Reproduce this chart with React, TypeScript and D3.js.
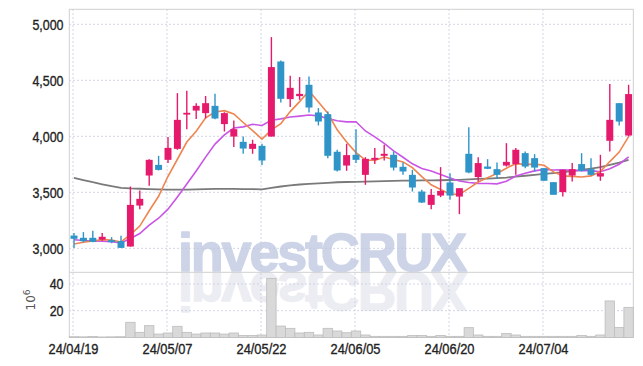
import React from 'react';
import * as d3 from 'd3';

const W = 643;
const H = 366;

const opens = [3114, 3094, 3094, 3078, 3073, 3064, 3016, 3382, 3650, 3745, 3790, 3888, 4194, 4230, 4207, 4272, 4109, 3998, 3951, 3888, 3915, 3998, 4668, 4332, 4359, 4460, 4213, 4198, 3862, 3739, 3835, 3656, 3790, 3826, 3835, 3728, 3656, 3507, 3388, 3471, 3588, 3462, 3844, 3636, 3730, 3707, 3739, 3752, 3850, 3805, 3716, 3591, 3502, 3650, 3752, 3707, 3641, 3960, 4296, 4007];
const highs = [3136, 3145, 3156, 3136, 3100, 3112, 3552, 3516, 3796, 3826, 3993, 4386, 4406, 4296, 4360, 4380, 4215, 4141, 3998, 3969, 3933, 4886, 4677, 4540, 4529, 4534, 4252, 4222, 3880, 3933, 4064, 3814, 3895, 3924, 3864, 3766, 3701, 3522, 3529, 3725, 3671, 3537, 4082, 3814, 3796, 3766, 3939, 3895, 3864, 3841, 3716, 3591, 3701, 3761, 3850, 3805, 3835, 4466, 4296, 4460];
const lows = [3002, 3055, 3055, 3067, 3046, 3002, 3016, 3350, 3558, 3695, 3761, 3880, 4064, 4154, 4160, 4153, 4043, 3904, 3844, 3844, 3743, 3998, 4302, 4261, 4326, 4213, 4097, 3805, 3686, 3692, 3761, 3567, 3752, 3784, 3695, 3656, 3507, 3404, 3350, 3457, 3433, 3305, 3671, 3596, 3707, 3618, 3730, 3656, 3716, 3686, 3603, 3478, 3462, 3596, 3686, 3650, 3603, 3864, 4097, 3998];
const closes = [3085, 3064, 3058, 3103, 3055, 3004, 3388, 3442, 3790, 3700, 3897, 4147, 4210, 4272, 4296, 4159, 4207, 4064, 3891, 3933, 3784, 4618, 4335, 4433, 4379, 4257, 4132, 3826, 3695, 3832, 3790, 3799, 3808, 3844, 3721, 3686, 3543, 3409, 3478, 3513, 3471, 3537, 3677, 3761, 3710, 3656, 3772, 3880, 3730, 3721, 3603, 3478, 3701, 3707, 3692, 3656, 3671, 4147, 4132, 4377];
const priorCloses = [3120, 3110, 3115, 3110, 3110, 2990, 3000, 3040, 3080];
const volumes = [0.5, 0.4, 0.6, 0.3, 0.4, 0.5, 11.3, 3.8, 8.8, 2.5, 3.3, 8.3, 3.8, 2.5, 3.3, 3.3, 2.5, 3.3, 1.5, 1.5, 1.8, 44.2, 8.5, 6.8, 3.3, 3.8, 1.8, 6.8, 4.8, 3.5, 4.8, 1.8, 0.8, 0.8, 0.8, 0.8, 1.5, 1.5, 0.8, 1.5, 0.8, 0.8, 7.3, 1.8, 0.8, 0.8, 3.0, 1.8, 0.8, 0.8, 0.8, 0.8, 0.8, 0.8, 1.5, 0.8, 1.8, 27.3, 7.5, 22.5];
const ma60 = [3629, 3610, 3590, 3572, 3555, 3540, 3535, 3532, 3529, 3526, 3524, 3524, 3524, 3526, 3528, 3530, 3530, 3530, 3529, 3528, 3526, 3540, 3552, 3562, 3570, 3576, 3580, 3585, 3590, 3592, 3594, 3596, 3598, 3600, 3602, 3604, 3605, 3606, 3607, 3608, 3610, 3612, 3616, 3620, 3623, 3627, 3632, 3640, 3648, 3656, 3664, 3672, 3680, 3690, 3700, 3712, 3725, 3745, 3765, 3790];

const priceTicks = [3000, 3500, 4000, 4500, 5000];
const volTicks = [20, 40];
const dateTickIndex = [0, 10, 20, 30, 40, 50];
const dateTickLabels = ['24/04/19', '24/05/07', '24/05/22', '24/06/05', '24/06/20', '24/07/04'];

const UP = '#e51a6c';
const DOWN = '#2f95c8';
const GRID = '#c3c8dc';
const FONT = '"Liberation Sans", Arial, sans-serif';

function movingAvg(n: number): number[] {
  const all = priorCloses.concat(closes);
  const off = priorCloses.length;
  return closes.map((_, i) => d3.mean(all.slice(i + off - n + 1, i + off + 1)) as number);
}

export default function App() {
  const left = 69.3, right = 633.3, top = 9.3, sep = 272.3, bottom = 337.4;
  const idx = d3.range(closes.length);
  const x = d3.scaleBand<number>().domain(idx).range([left, right]).padding(0);
  const cx = (i: number) => (x(i) as number) + x.bandwidth() / 2;
  const y = d3.scaleLinear().domain([2786, 5134]).range([sep, top]);
  const yv = d3.scaleLinear().domain([0, 48.75]).range([bottom, sep]);
  const bw = x.bandwidth() * 0.74;

  const line = d3.line<number>().x((_, i) => cx(i)).y((d) => y(d));
  const ma5 = movingAvg(5);
  const ma10 = movingAvg(10);
  const sx = 0.83;

  return (
    <svg width={W} height={H} style={{ position: 'fixed', left: 0, top: 0, background: '#fff' }}>
      <rect x={0} y={0} width={W} height={H} fill="#fff" />
      {/* watermark */}
      <g fontFamily='"Liberation Sans", Arial, sans-serif' fontWeight="bold" fontSize={54} letterSpacing={-2.2}>
        <text x={178} y={sep - 1} fill="#cdd4e8" stroke="#cdd4e8" strokeWidth={1.3} strokeLinejoin="round">investCRUX</text>
        <text x={178} y={sep - 1} fill="#e5e6ef" stroke="#e5e6ef" strokeWidth={1.3} strokeLinejoin="round" transform={`translate(0, ${2 * sep}) scale(1,-1)`} opacity={0.7}>investCRUX</text>
      </g>
      {/* grid */}
      <g stroke={GRID} strokeWidth={1} strokeDasharray="1.5,2.5">
        {priceTicks.map((t) => (
          <line key={'p' + t} x1={left} x2={right} y1={y(t)} y2={y(t)} />
        ))}
        {volTicks.map((t) => (
          <line key={'v' + t} x1={left} x2={right} y1={yv(t)} y2={yv(t)} />
        ))}
        {dateTickIndex.map((i) => (
          <line key={'d' + i} x1={cx(i) - 1} x2={cx(i) - 1} y1={top} y2={bottom} />
        ))}
      </g>
      {/* frame */}
      <g stroke="#d0d0d0" strokeWidth={1} fill="none">
        <rect x={left} y={top} width={right - left} height={bottom - top} />
        <line x1={left} x2={right} y1={sep} y2={sep} />
      </g>
      {/* volume */}
      <g>
        {volumes.map((v, i) => (
          <rect key={i} x={x(i)} y={yv(v)} width={x.bandwidth()} height={bottom - yv(v)} fill="#d9d9d9" stroke="#bdbdbd" strokeWidth={0.8} />
        ))}
      </g>
      {/* moving averages */}
      <path d={line(ma60) as string} fill="none" stroke="#7a7a7a" strokeWidth={1.8} />
      <path d={line(ma10) as string} fill="none" stroke="#c955e6" strokeWidth={1.6} />
      <path d={line(ma5) as string} fill="none" stroke="#ee8550" strokeWidth={1.6} />
      {/* candles */}
      <g>
        {idx.map((i) => {
          const up = closes[i] >= opens[i];
          const c = up ? UP : DOWN;
          const yt = y(Math.max(opens[i], closes[i]));
          const yb = y(Math.min(opens[i], closes[i]));
          return (
            <g key={i}>
              <line x1={cx(i)} x2={cx(i)} y1={y(highs[i])} y2={y(lows[i])} stroke={c} strokeWidth={1.4} />
              <rect x={cx(i) - bw / 2} y={yt} width={bw} height={Math.max(1.5, yb - yt)} fill={c} />
            </g>
          );
        })}
      </g>
      {/* axes labels */}
      <g fontFamily={FONT} fontSize={15} fill="#222" stroke="#222" strokeWidth={0.35} textAnchor="end">
        {priceTicks.map((t) => (
          <g key={t} transform={`translate(63.5, ${y(t) + 5.5}) scale(${sx},1)`}>
            <text x={0} y={0}>{d3.format(',')(t)}</text>
          </g>
        ))}
        {volTicks.map((t) => (
          <g key={t} transform={`translate(63.5, ${yv(t) + 5.5}) scale(${sx},1)`}>
            <text x={0} y={0}>{t}</text>
          </g>
        ))}
      </g>
      <g fontFamily={FONT} fontSize={15.5} fill="#222" stroke="#222" strokeWidth={0.35} textAnchor="middle">
        {dateTickIndex.map((i, k) => (
          <g key={i} transform={`translate(${cx(i) - 0.5}, 354.3) scale(${sx},1)`}>
            <text x={0} y={0}>{dateTickLabels[k]}</text>
          </g>
        ))}
      </g>
      <text transform="translate(35, 300) rotate(-90)" fontFamily='"DejaVu Sans", sans-serif' fontSize={12} fill="#555" textAnchor="middle">
        10<tspan dy={-5} fontSize={9}>6</tspan>
      </text>
    </svg>
  );
}
